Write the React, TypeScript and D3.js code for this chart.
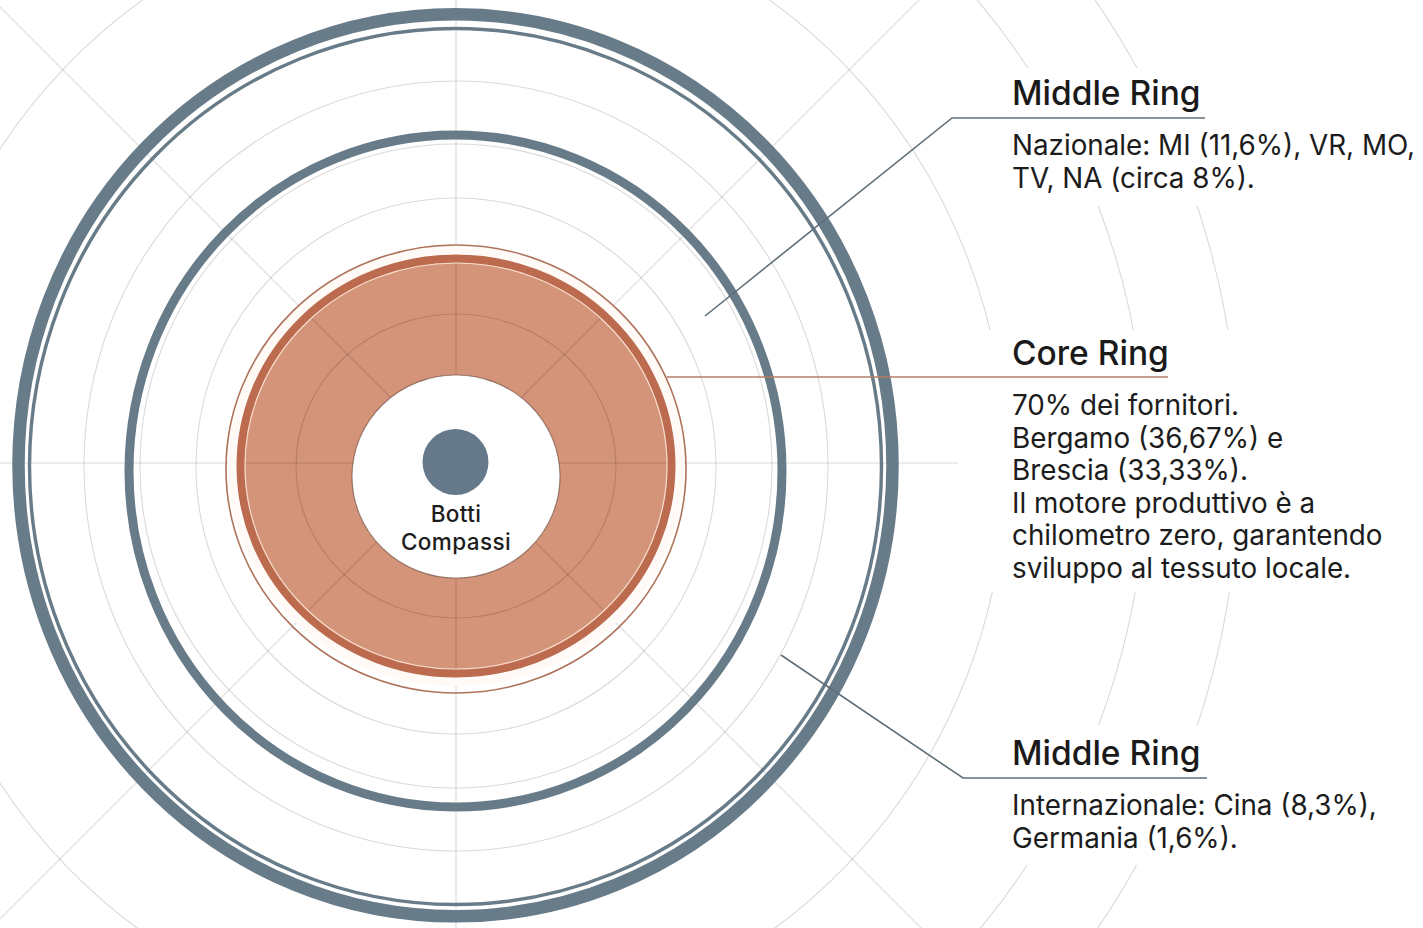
import { useEffect, useRef } from 'react';
import * as d3 from 'd3';

// --- content ---
const centerLabel = ['Botti', 'Compassi'];
const calloutTitles = ['Middle Ring', 'Core Ring', 'Middle Ring'];
const calloutKinds = ['middle', 'core', 'middle'];
const calloutLines = [
  ['Nazionale: MI (11,6%), VR, MO,', 'TV, NA (circa 8%).'],
  [
    '70% dei fornitori.',
    'Bergamo (36,67%) e',
    'Brescia (33,33%).',
    'Il motore produttivo è a',
    'chilometro zero, garantendo',
    'sviluppo al tessuto locale.',
  ],
  ['Internazionale: Cina (8,3%),', 'Germania (1,6%).'],
];

// --- layout ---
const W = 1423;
const H = 928;
const CX = 456;
const FONT = 'Inter, "Noto Sans", sans-serif';

const SLATE = '#677b88';
const ORANGE = '#d49479';
const ORANGE_DARK = '#bc6b4e';

// grid ellipses (slightly taller than wide, like the source)
const gridRx = [160, 260, 316, 372, 550, 690, 783];
const gridRy = [152, 268, 322, 385, 567, 711, 806];
const spokeAngles = d3.range(0, 360, 45);

// callout anchors: start point on chart, elbow, end of underline
const calloutPaths: [number, number][][] = [
  [[705, 316], [952, 118], [1205, 118]],
  [[667, 377], [1168, 377]],
  [[781, 655], [963, 778], [1207, 778]],
];
const calloutTop = [105, 365, 765];
const calloutBoxes = [
  [1000, 68, 423, 138],
  [958, 330, 465, 262],
  [1000, 725, 423, 140],
];

export default function App() {
  const ref = useRef<SVGSVGElement>(null);

  useEffect(() => {
    const svg = d3.select(ref.current);
    svg.selectAll('*').remove();

    svg.append('rect').attr('width', W).attr('height', H).attr('fill', '#ffffff');

    // orange core fill (under the grid, so grid lines show through darker)
    svg.append('ellipse')
      .attr('cx', CX).attr('cy', 466)
      .attr('rx', 213).attr('ry', 205)
      .attr('fill', ORANGE);

    // grid
    const grid = svg.append('g').attr('fill', 'none').attr('stroke', 'rgba(0,0,0,0.15)').attr('stroke-width', 1.1);
    grid.selectAll('ellipse')
      .data(gridRx)
      .join('ellipse')
      .attr('cx', CX).attr('cy', 466)
      .attr('rx', d => d)
      .attr('ry', (_, i) => gridRy[i]);

    const spokeLen = 1400;
    grid.selectAll('line')
      .data(spokeAngles)
      .join('line')
      .attr('x1', CX).attr('y1', 463)
      .attr('x2', d => CX + Math.cos((d * Math.PI) / 180) * spokeLen)
      .attr('y2', d => 463 + Math.sin((d * Math.PI) / 180) * spokeLen);

    // orange rim
    svg.append('ellipse')
      .attr('cx', CX).attr('cy', 466).attr('rx', 224).attr('ry', 216)
      .attr('fill', 'none').attr('stroke', '#fffaf6').attr('stroke-width', 8);
    svg.append('ellipse')
      .attr('cx', CX).attr('cy', 466).attr('rx', 215.5).attr('ry', 207.5)
      .attr('fill', 'none').attr('stroke', ORANGE_DARK).attr('stroke-width', 8);
    svg.append('ellipse')
      .attr('cx', CX).attr('cy', 466).attr('rx', 211).attr('ry', 203)
      .attr('fill', 'none').attr('stroke', '#f6dccd').attr('stroke-width', 1.2);
    svg.append('ellipse')
      .attr('cx', CX).attr('cy', 469).attr('rx', 230).attr('ry', 224)
      .attr('fill', 'none').attr('stroke', '#ae7259').attr('stroke-width', 1.6);

    // white centre + hub
    svg.append('ellipse')
      .attr('cx', CX).attr('cy', 476.5).attr('rx', 104).attr('ry', 101.5)
      .attr('fill', '#ffffff').attr('stroke', 'rgba(90,60,50,0.55)').attr('stroke-width', 1.2);
    svg.append('circle')
      .attr('cx', 455.5).attr('cy', 462).attr('r', 33)
      .attr('fill', '#65798a');

    svg.append('g')
      .selectAll('text')
      .data(centerLabel)
      .join('text')
      .attr('x', CX)
      .attr('y', (_, i) => 522 + i * 27.5)
      .attr('text-anchor', 'middle')
      .attr('font-family', FONT)
      .attr('font-size', 22.5)
      .attr('font-weight', 500)
      .attr('letter-spacing', 0.4)
      .attr('fill', '#1c1c1c')
      .text(d => d);

    // slate rings
    svg.append('ellipse')
      .attr('cx', 455.5).attr('cy', 471).attr('rx', 326.5).attr('ry', 336)
      .attr('fill', 'none').attr('stroke', SLATE).attr('stroke-width', 9);
    svg.append('ellipse')
      .attr('cx', 455.5).attr('cy', 466.5).attr('rx', 426).attr('ry', 438)
      .attr('fill', 'none').attr('stroke', SLATE).attr('stroke-width', 3.4);
    svg.append('ellipse')
      .attr('cx', 455.5).attr('cy', 465.3).attr('rx', 437).attr('ry', 451)
      .attr('fill', 'none').attr('stroke', SLATE).attr('stroke-width', 12.5);

    // callouts
    const line = d3.line();
    calloutTitles.forEach((title, i) => {
      const [bx, by, bw, bh] = calloutBoxes[i];
      svg.append('rect')
        .attr('x', bx).attr('y', by).attr('width', bw).attr('height', bh)
        .attr('fill', '#ffffff');

      svg.append('path')
        .attr('d', line(calloutPaths[i]))
        .attr('fill', 'none')
        .attr('stroke', calloutKinds[i] === 'core' ? '#b47c64' : '#5f6e78')
        .attr('stroke-width', 1.6);

      svg.append('text')
        .attr('x', 1012).attr('y', calloutTop[i])
        .attr('font-family', FONT)
        .attr('font-size', 33.5)
        .attr('font-weight', 500)
        .attr('fill', '#1a1a1a')
        .text(title);

      svg.append('g')
        .selectAll('text')
        .data(calloutLines[i])
        .join('text')
        .attr('x', 1012)
        .attr('y', (_, j) => calloutTop[i] + 50 + j * 32.5)
        .attr('font-family', FONT)
        .attr('font-size', 27.8)
        .attr('fill', '#1c1c1c')
        .text(d => d);
    });
  }, []);

  return (
    <svg
      ref={ref}
      width={W}
      height={H}
      viewBox={`0 0 ${W} ${H}`}
      style={{ position: 'absolute', left: 0, top: 0, display: 'block' }}
    />
  );
}
